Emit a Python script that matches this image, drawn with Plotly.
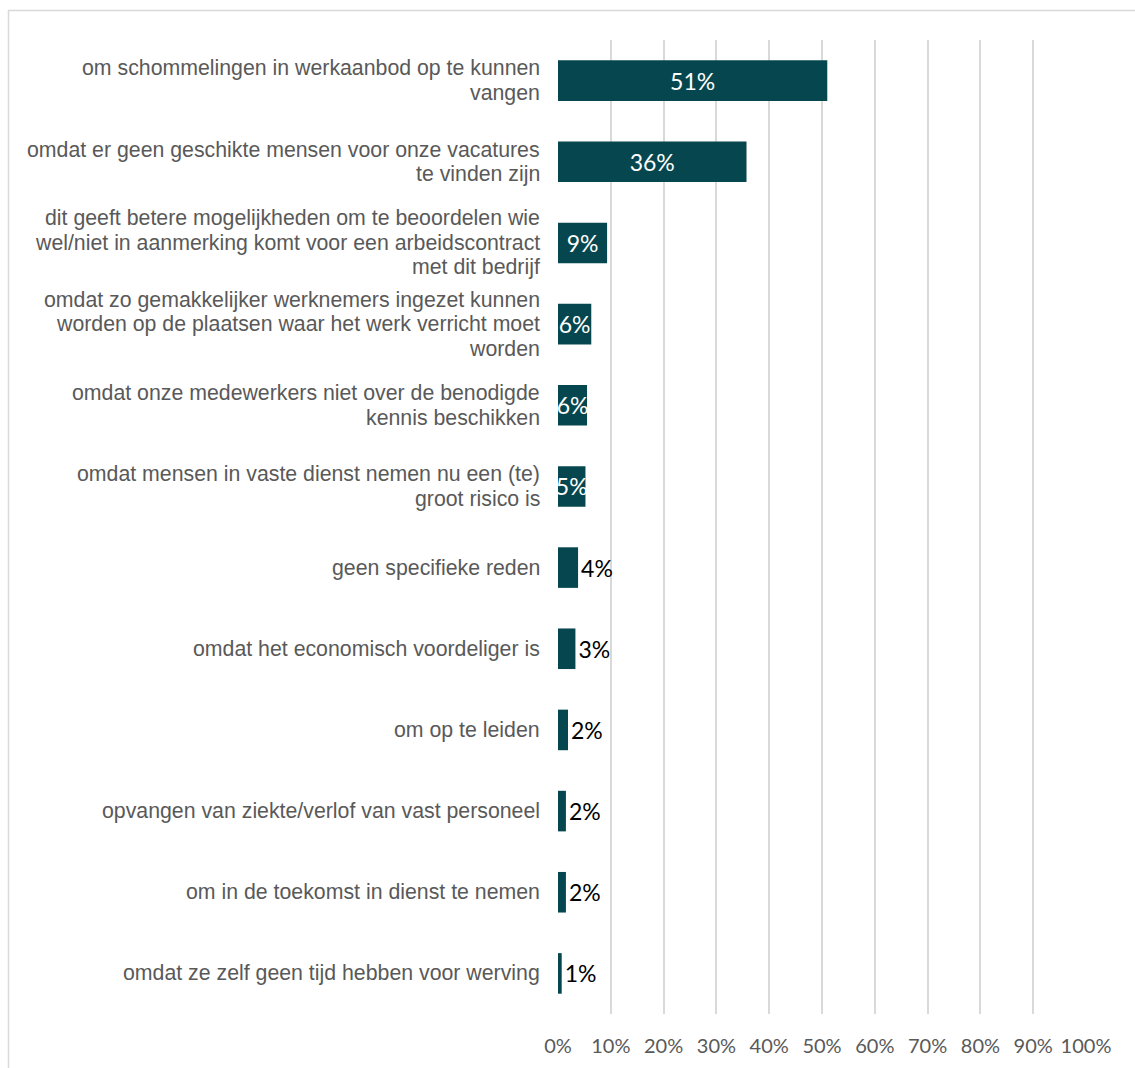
import plotly.graph_objects as go

# Reasons, top to bottom
categories = [
    "om schommelingen in werkaanbod op te kunnen<br>vangen",
    "omdat er geen geschikte mensen voor onze vacatures<br>te vinden zijn",
    "dit geeft betere mogelijkheden om te beoordelen wie<br>wel/niet in aanmerking komt voor een arbeidscontract<br>met dit bedrijf",
    "omdat zo gemakkelijker werknemers ingezet kunnen<br>worden op de plaatsen waar het werk verricht moet<br>worden",
    "omdat onze medewerkers niet over de benodigde<br>kennis beschikken",
    "omdat mensen in vaste dienst nemen nu een (te)<br>groot risico is",
    "geen specifieke reden",
    "omdat het economisch voordeliger is",
    "om op te leiden",
    "opvangen van ziekte/verlof van vast personeel",
    "om in de toekomst in dienst te nemen",
    "omdat ze zelf geen tijd hebben voor werving",
]
# Share of respondents (%)
values = [51.0, 35.7, 9.3, 6.3, 5.5, 5.2, 3.8, 3.3, 1.9, 1.5, 1.5, 0.7]

tick_vals = [0, 10, 20, 30, 40, 50, 60, 70, 80, 90, 100]
tick_text = ["0%", "10%", "20%", "30%", "40%", "50%", "60%", "70%", "80%", "90%", "100%"]

BAR = "#06474f"
GRID = "#d9d9d9"
TEXT = "#595959"

W, H = 1135, 1068
ML, MR, MT, MB = 558, 49, 40, 54
LABEL_SIZE = 21.3
LINE_GAP = 24.5

positions = ["inside" if v >= 5 else "outside" for v in values]

fig = go.Figure(
    go.Bar(
        x=values,
        y=categories,
        orientation="h",
        marker=dict(color=BAR, line=dict(width=0)),
        text=values,
        texttemplate="%{x:.0f}%",
        textposition=positions,
        insidetextanchor="middle",
        textangle=0,
        constraintext="none",
        cliponaxis=False,
        insidetextfont=dict(family="Lato", size=23, color="white"),
        outsidetextfont=dict(family="Lato", size=23, color="black"),
        hoverinfo="skip",
    )
)

# category labels, right-aligned, with tighter line spacing than tick labels allow
for cat in categories:
    lines = cat.split("<br>")
    n = len(lines)
    for j, line in enumerate(lines):
        fig.add_annotation(
            x=0, xref="paper", y=cat, yref="y",
            text=line, showarrow=False,
            xanchor="right", yanchor="middle",
            xshift=-16, yshift=((n - 1) / 2 - j) * LINE_GAP,
            font=dict(family="Liberation Sans", size=LABEL_SIZE, color=TEXT),
        )

# light frame around the chart area
pw = W - ML - MR
ph = H - MT - MB
fig.add_shape(
    type="rect",
    xref="paper", yref="paper",
    x0=(8.5 - ML) / pw, x1=(W + 20 - ML) / pw,
    y0=(H - MT - (H + 20)) / ph, y1=(H - MB - 10.5) / ph,
    line=dict(color=GRID, width=1.5),
    fillcolor="rgba(0,0,0,0)",
    layer="below",
)

fig.update_layout(
    width=W, height=H,
    margin=dict(l=ML, r=MR, t=MT, b=MB),
    paper_bgcolor="white",
    plot_bgcolor="white",
    bargap=0.5,
    showlegend=False,
    xaxis=dict(
        range=[0, 100],
        tickvals=tick_vals,
        ticktext=tick_text,
        showgrid=True,
        gridcolor=GRID,
        gridwidth=2,
        zeroline=False,
        showline=False,
        ticks="",
        ticklabelstandoff=18,
        tickfont=dict(family="Lato", size=20, color=TEXT),
        fixedrange=True,
    ),
    yaxis=dict(
        categoryorder="array",
        categoryarray=categories,
        autorange="reversed",
        showgrid=False,
        zeroline=False,
        showline=False,
        ticks="",
        showticklabels=False,
        fixedrange=True,
    ),
)

fig.write_html("out.html")
